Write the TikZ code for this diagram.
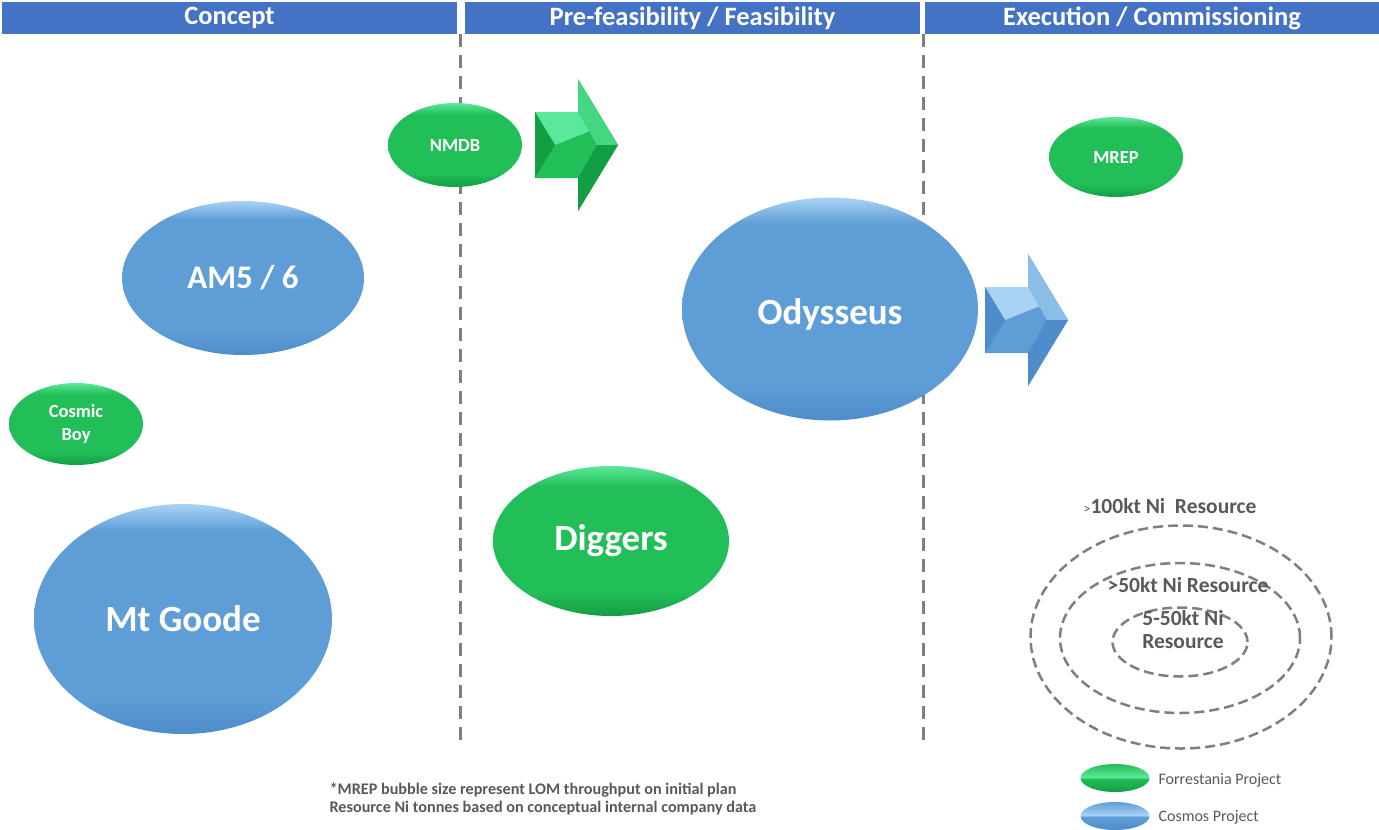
\documentclass[tikz,border=0pt]{standalone}
\usepackage{fontspec}
\setmainfont{Carlito}
\usetikzlibrary{shapes.geometric}

\definecolor{barblue}{HTML}{4472C4}
\definecolor{linegray}{HTML}{7F7F7F}
\definecolor{textgray}{HTML}{595959}
\definecolor{greentop}{HTML}{5CE89A}
\definecolor{greenmid}{HTML}{22BE58}
\definecolor{greenbot}{HTML}{139E45}
\definecolor{bluetop}{HTML}{A9D3F5}
\definecolor{bluemid}{HTML}{5E9DD6}
\definecolor{bluebot}{HTML}{4F8CCB}

\pgfdeclareverticalshading{greenball}{100bp}{color(0bp)=(greenbot); color(25bp)=(greenbot);
  color(33bp)=(greenmid); color(68bp)=(greenmid); color(75bp)=(greentop); color(100bp)=(greentop)}
\pgfdeclareverticalshading{blueball}{100bp}{color(0bp)=(bluebot); color(25bp)=(bluebot);
  color(33bp)=(bluemid); color(69bp)=(bluemid); color(75bp)=(bluetop); color(100bp)=(bluetop)}
\pgfdeclareverticalshading{greenhalf}{100bp}{color(0bp)=(greenbot); color(25bp)=(greenbot);
  color(49bp)=(greenmid); color(51bp)=(greentop); color(75bp)=(greenmid); color(100bp)=(greenmid)}
\pgfdeclareverticalshading{bluehalf}{100bp}{color(0bp)=(bluebot); color(25bp)=(bluebot);
  color(49bp)=(bluemid); color(51bp)=(bluetop); color(75bp)=(bluemid); color(100bp)=(bluemid)}

% bevelled block arrow, #1 = left middle point, #2 = colour prefix
\newcommand{\phasearrow}[2]{%
  \begin{scope}[shift={#1}]
    \fill[#2mid] (0,-33) -- (43,-33) -- (43,-66) -- (83,0) -- (43,66) -- (43,33) -- (0,33) -- cycle;
    \fill[#2top] (0,-33) -- (43,-33) -- (55,-14) -- (20,0) -- cycle;
    \fill[#2bot] (0,-33) -- (20,0) -- (0,33) -- cycle;
    \fill[#2top!60!#2mid] (43,-66) -- (83,0) -- (62,0) -- (43,-33) -- cycle;
    \fill[#2bot] (62,0) -- (83,0) -- (43,66) -- (43,33) -- cycle;
  \end{scope}}

\begin{document}
\begin{tikzpicture}[x=1pt,y=-1pt,
	phase bar/.style = {rectangle, fill=barblue, text=white, inner sep=0pt, minimum height=32pt,
		font=\bfseries\fontsize{26.5}{30}\selectfont},
	phase line/.style = {draw=linegray, line width=3pt, dash pattern=on 13pt off 8pt},
	bubble/.style = {ellipse, inner sep=0pt, text=white, align=center},
	green bubble/.style = {bubble, shade, shading=greenball},
	blue bubble/.style = {bubble, shade, shading=blueball},
	small label/.style = {font=\bfseries\fontsize{18.5}{23}\selectfont},
	big label/.style = {font=\bfseries\fontsize{37}{40}\selectfont},
	size ring/.style = {ellipse, draw=linegray, line width=2.5pt, dash pattern=on 10pt off 5pt, inner sep=0pt},
	ring label/.style = {text=textgray, align=center, font=\bfseries\fontsize{21.5}{23}\selectfont},
	key/.style = {text=textgray, anchor=west, font=\fontsize{16}{18}\selectfont}]
	\useasboundingbox (0,0) rectangle (1379,830);

	% phases
	\node[phase bar, minimum width=455pt] (concept) at (229.5,18) {Concept};
	\node[phase bar, minimum width=455pt] (feasibility) at (692.5,18) {Pre-feasibility / Feasibility};
	\node[phase bar, minimum width=454pt] (execution) at (1152,18) {Execution / Commissioning};
	\draw[phase line] (460,34) -- (460,745);
	\draw[phase line] (923,34) -- (923,745);

	% projects
	\node[green bubble, small label, minimum width=134pt, minimum height=84pt] (nmdb) at (455,145) {NMDB};
	\node[blue bubble, big label, font=\bfseries\fontsize{33}{36}\selectfont, minimum width=242pt, minimum height=154pt] (am) at (243,278) {AM5 / 6};
	\node[green bubble, small label, minimum width=134pt, minimum height=82pt] (cosmic) at (76,424) {Cosmic\\Boy};
	\node[blue bubble, big label, minimum width=298pt, minimum height=230pt] (goode) at (183,619) {Mt Goode};
	\node[green bubble, big label, minimum width=236pt, minimum height=150pt] (diggers) at (611,541) {Diggers};
	\node[blue bubble, big label, minimum width=296pt, minimum height=223pt] (odysseus) at (830,309) {\raisebox{-5pt}[\height][\depth]{Odysseus}};
	\node[green bubble, small label, minimum width=134pt, minimum height=80pt] (mrep) at (1116,157) {MREP};

	\phasearrow{(535,145)}{green}
	\phasearrow{(985,320)}{blue}

	% resource size key
	\node[size ring, minimum width=301pt, minimum height=223pt] (outer) at (1181,637) {};
	\node[size ring, minimum width=240pt, minimum height=150pt] (middle) at (1180,638) {};
	\node[size ring, minimum width=135pt, minimum height=69pt] (inner) at (1180,642) {};
	\node[ring label] (big) at (1170,506) {{\mdseries\fontsize{14}{16}\selectfont >}100kt Ni\ \ Resource};
	\node[ring label] (mid) at (1188,585) {>50kt Ni Resource};
	\node[ring label] (small) at (1183,630) {5-50kt Ni\\Resource};

	% legend
	\node[ellipse, inner sep=0pt, minimum width=69pt, minimum height=28pt, shade, shading=greenhalf] (fkey) at (1115,778) {};
	\node[ellipse, inner sep=0pt, minimum width=69pt, minimum height=28pt, shade, shading=bluehalf] (ckey) at (1115,816) {};
	\node[key] at (1155,780) {Forrestania Project};
	\node[key] at (1155,817) {Cosmos Project};

	\node[anchor=west, align=left, text=textgray, font=\bfseries\fontsize{16.2}{18}\selectfont] (note) at (326,799)
		{*MREP bubble size represent LOM throughput on initial plan\\Resource Ni tonnes based on conceptual internal company data};
\end{tikzpicture}
\end{document}
